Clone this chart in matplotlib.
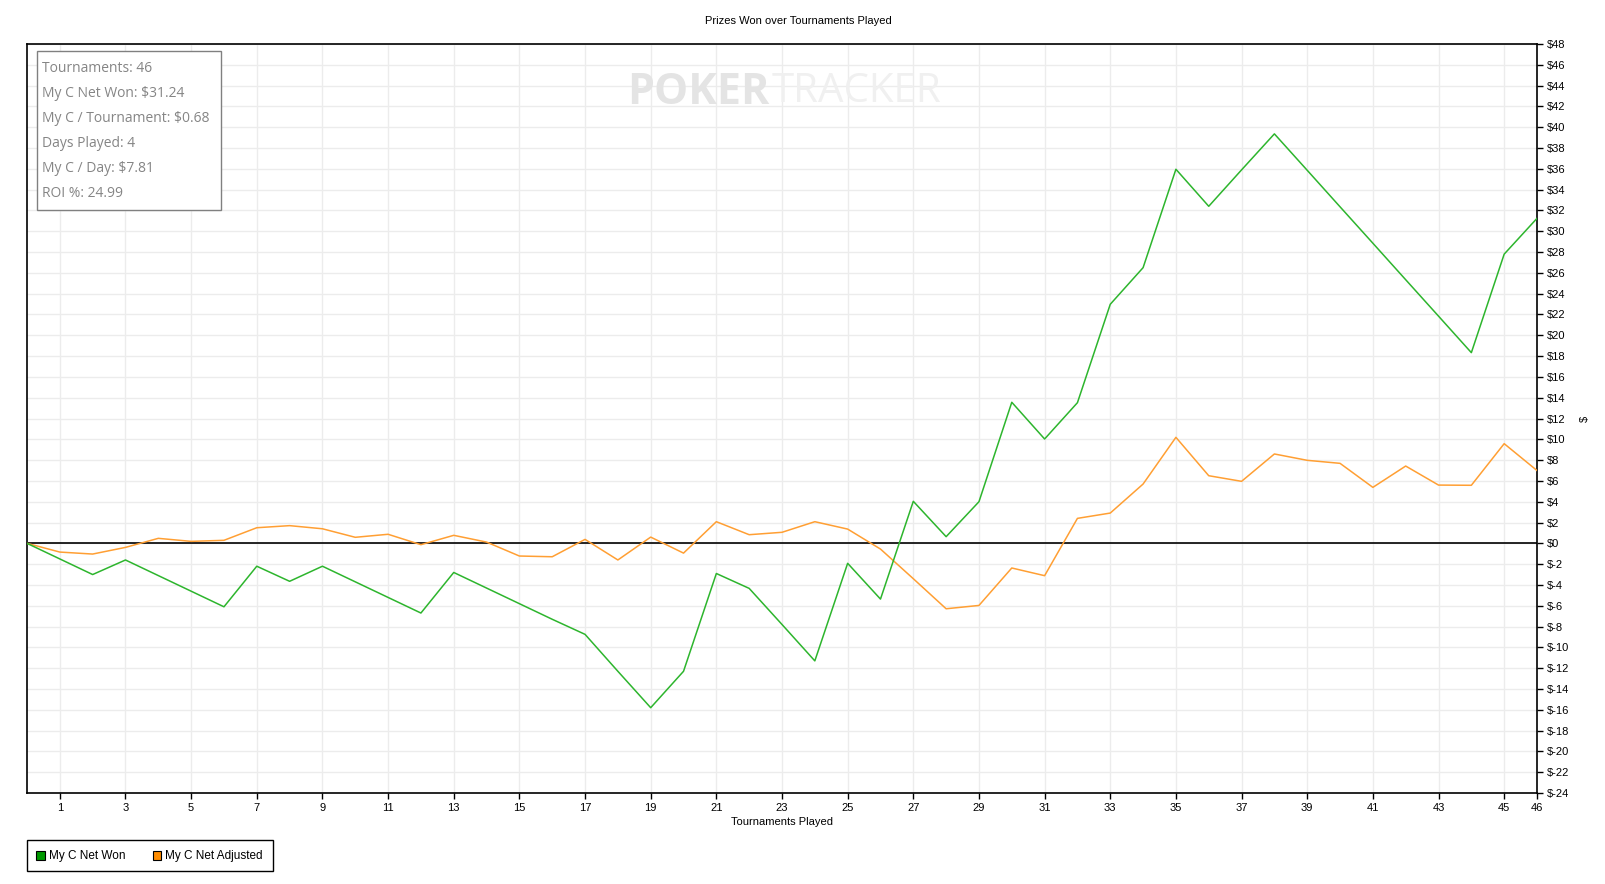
import matplotlib
matplotlib.use("Agg")
import matplotlib.pyplot as plt
from matplotlib.patches import Rectangle

# ---- data ----
tournaments = list(range(0, 47))
net_won = [0, -1.5, -3.0, -1.6, -3.1, -4.6, -6.1, -2.2, -3.65, -2.2, -3.7, -5.2, -6.7,
           -2.8, -4.3, -5.8, -7.3, -8.75, -12.3, -15.8, -12.3, -2.9, -4.33, -7.8, -11.3,
           -1.92, -5.36, 4.04, 0.64, 4.0, 13.56, 10.03, 13.52, 22.98, 26.5, 35.96, 32.4,
           35.9, 39.36, 35.86, 32.35, 28.85, 25.34, 21.84, 18.33, 27.8, 31.24]
net_adjusted = [0, -0.84, -1.03, -0.39, 0.48, 0.19, 0.29, 1.5, 1.7, 1.4, 0.58, 0.87, -0.13,
                0.77, 0.12, -1.22, -1.29, 0.38, -1.6, 0.6, -0.94, 2.08, 0.83, 1.06, 2.08,
                1.37, -0.55, -3.4, -6.29, -5.97, -2.37, -3.11, 2.4, 2.91, 5.7, 10.19, 6.5,
                5.96, 8.59, 7.98, 7.69, 5.38, 7.43, 5.6, 5.58, 9.58, 7.0]
x_ticks = list(range(1, 46, 2)) + [46]
y_ticks = list(range(-24, 49, 2))
series_names = ["My C Net Won", "My C Net Adjusted"]
info_lines = ["Tournaments: 46", "My C Net Won: $31.24", "My C / Tournament: $0.68",
              "Days Played: 4", "My C / Day: $7.81", "ROI %: 24.99"]

W, H = 1606, 884
fig = plt.figure(figsize=(W / 100, H / 100), dpi=100)
fig.patch.set_facecolor("white")

L, R, T, B = 27, 1537, 44, 793
ax = fig.add_axes([L / W, 1 - B / H, (R - L) / W, (B - T) / H])

green = "#2db52d"
orange = "#ff9f33"

# grid
for xv in range(1, 46, 2):
    ax.axvline(xv, color="#ececec", lw=1.0, zorder=0)
for yv in y_ticks:
    ax.axhline(yv, color="#ececec", lw=1.0, zorder=0)

ax.axhline(0, color="black", lw=1.2, zorder=2)
ax.plot(tournaments, net_adjusted, color=orange, lw=1.1, zorder=3)
ax.plot(tournaments, net_won, color=green, lw=1.1, zorder=4)

ax.set_xlim(0, 46)
ax.set_ylim(-24, 48)
ax.set_xticks(x_ticks)
ax.set_xticklabels([str(v) for v in x_ticks], fontsize=8, family="Liberation Sans")
ax.yaxis.tick_right()
ax.yaxis.set_label_position("right")
ax.set_yticks(y_ticks)
ax.set_yticklabels([f"${v}" for v in y_ticks], fontsize=8, family="Liberation Sans")
ax.tick_params(axis="both", length=4, width=1, direction="out", pad=3)
ax.tick_params(axis="y", left=False)
for s in ax.spines.values():
    s.set_color("black")
    s.set_linewidth(1.2)

ax.set_xlabel("Tournaments Played", fontsize=8, family="Liberation Sans", labelpad=3)
ax.set_ylabel("$", fontsize=8, family="Liberation Sans", rotation=90, labelpad=8)

# title
fig.text(798 / W, 1 - 20.5 / H, "Prizes Won over Tournaments Played", ha="center", va="center",
         fontsize=8, family="Liberation Sans")

# watermark
fig.text(770 / W, 1 - 92 / H, "POKER", ha="right", va="center", fontsize=31, fontweight="bold",
         family="Open Sans", color="#e4e4e4", zorder=1)
fig.text(772 / W, 1 - 92 / H, "TRACKER", ha="left", va="center", fontsize=29,
         family="Open Sans", color="#f0f0f0", zorder=1)

# info box
bx0, by0, bx1, by1 = 37.3, 51.3, 221.3, 210.3
fig.patches.append(Rectangle((bx0 / W, 1 - by1 / H), (bx1 - bx0) / W, (by1 - by0) / H,
                             transform=fig.transFigure, facecolor="white", edgecolor="#808080",
                             lw=1.0, zorder=5))
for i, line in enumerate(info_lines):
    fig.text(42.5 / W, 1 - (72.3 + 24.9 * i) / H, line, ha="left", va="baseline", fontsize=10,
             family="Open Sans", color="#858585", zorder=6)

# legend
lx0, ly0, lx1, ly1 = 27, 840.3, 272.7, 871
fig.patches.append(Rectangle((lx0 / W, 1 - ly1 / H), (lx1 - lx0) / W, (ly1 - ly0) / H,
                             transform=fig.transFigure, facecolor="white", edgecolor="black",
                             lw=1.0))
sq = 8.5
for sx, col, tx, name in [(36.5, "#009900", 49.5, series_names[0]),
                          (152.5, "#ff8c00", 165.5, series_names[1])]:
    fig.patches.append(Rectangle((sx / W, 1 - (855.5 + sq / 2) / H), sq / W, sq / H,
                                 transform=fig.transFigure, facecolor=col, edgecolor="black",
                                 lw=0.8))
    fig.text(tx / W, 1 - 855.8 / H, name, ha="left", va="center", fontsize=8.5,
             family="Liberation Sans")

fig.savefig("out.png", dpi=100)
